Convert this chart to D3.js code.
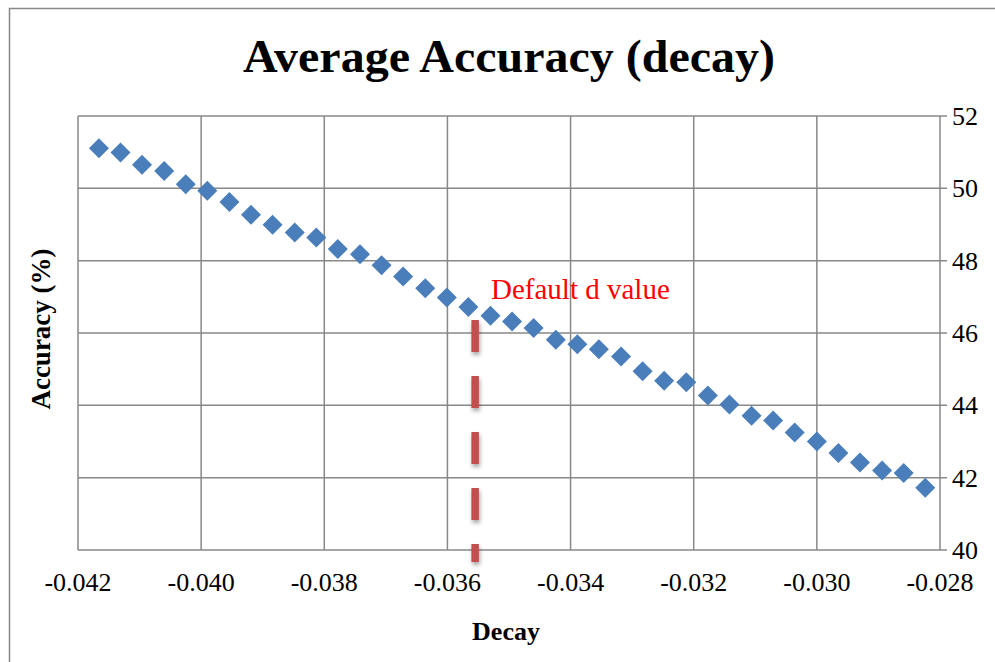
<!DOCTYPE html>
<html>
<head>
<meta charset="utf-8">
<script src="https://cdn.jsdelivr.net/npm/d3@7"></script>
<style>
  html, body { margin: 0; padding: 0; background: #fff; }
  svg { display: block; }
</style>
</head>
<body>
<svg id="chart" width="995" height="662"></svg>
<script>
// ---- data ----
const decay = [-0.04166, -0.04131, -0.04096, -0.04060, -0.04025, -0.03990, -0.03954, -0.03919,
  -0.03884, -0.03848, -0.03813, -0.03778, -0.03742, -0.03707, -0.03672, -0.03636, -0.03601,
  -0.03566, -0.03530, -0.03495, -0.03460, -0.03424, -0.03389, -0.03354, -0.03318, -0.03283,
  -0.03248, -0.03212, -0.03177, -0.03142, -0.03106, -0.03071, -0.03036, -0.03000, -0.02965,
  -0.02930, -0.02894, -0.02859, -0.02824];
const accuracy = [51.11, 50.99, 50.65, 50.48, 50.11, 49.93, 49.62, 49.27, 48.99, 48.78, 48.64,
  48.32, 48.18, 47.87, 47.56, 47.24, 46.98, 46.72, 46.48, 46.32, 46.14, 45.81, 45.69, 45.55,
  45.35, 44.94, 44.68, 44.64, 44.27, 44.02, 43.71, 43.58, 43.25, 43.00, 42.68, 42.42, 42.20,
  42.13, 41.72];
const xTicks = [-0.042, -0.040, -0.038, -0.036, -0.034, -0.032, -0.030, -0.028];
const yTicks = [40, 42, 44, 46, 48, 50, 52];
const defaultDecay = -0.03555;
const defaultLineRange = [46.36, 39.67];
const titleText = "Average Accuracy (decay)";
const xTitle = "Decay";
const yTitle = "Accuracy (%)";
const annotation = "Default d value";

// ---- layout ----
const svg = d3.select("#chart");
const serif = "'Liberation Serif', 'Times New Roman', serif";
const x = d3.scaleLinear().domain([-0.042, -0.028]).range([78, 940]);
const y = d3.scaleLinear().domain([40, 52]).range([550, 116]);
const grid = "#888888";

// outer frame
svg.append("path")
  .attr("d", "M9.5,662 L9.5,8.5 L995,8.5")
  .attr("fill", "none").attr("stroke", grid).attr("stroke-width", 1.5);

// defs: shadow
const defs = svg.append("defs");
const f = defs.append("filter").attr("id", "shadow")
  .attr("filterUnits", "userSpaceOnUse")
  .attr("x", 0).attr("y", 0).attr("width", 995).attr("height", 662);
f.append("feDropShadow").attr("dx", 1).attr("dy", 3).attr("stdDeviation", 2)
  .attr("flood-color", "#000").attr("flood-opacity", 0.35);

// horizontal gridlines (with right-side tick extension)
svg.append("g").selectAll("line").data(yTicks).join("line")
  .attr("x1", x.range()[0]).attr("x2", x.range()[1] + 7)
  .attr("y1", d => y(d)).attr("y2", d => y(d))
  .attr("stroke", grid).attr("stroke-width", 1.5);

// vertical gridlines
svg.append("g").selectAll("line").data(xTicks).join("line")
  .attr("x1", d => x(d)).attr("x2", d => x(d))
  .attr("y1", y.range()[1]).attr("y2", y.range()[0])
  .attr("stroke", grid).attr("stroke-width", 1.5);

// x tick labels
svg.append("g").selectAll("text").data(xTicks).join("text")
  .attr("x", d => x(d)).attr("y", 591)
  .attr("text-anchor", "middle")
  .attr("font-family", serif).attr("font-size", 26).attr("fill", "#000")
  .text(d => d3.format(".3f")(d).replace("−", "-"));

// y tick labels (right)
svg.append("g").selectAll("text").data(yTicks).join("text")
  .attr("x", 952).attr("y", d => y(d) + 9)
  .attr("text-anchor", "start")
  .attr("font-family", serif).attr("font-size", 26).attr("fill", "#000")
  .text(d => d);

// default d value dashed line
svg.append("line")
  .attr("x1", x(defaultDecay)).attr("x2", x(defaultDecay))
  .attr("y1", y(defaultLineRange[0])).attr("y2", y(defaultLineRange[1]))
  .attr("stroke", "#c0504d").attr("stroke-width", 7.5)
  .attr("stroke-dasharray", "32,24")
  .attr("filter", "url(#shadow)");

// markers
svg.append("g").selectAll("path").data(decay.map((d, i) => [d, accuracy[i]])).join("path")
  .attr("d", d3.symbol(d3.symbolSquare, 200))
  .attr("transform", d => `translate(${x(d[0])},${y(d[1])}) rotate(45)`)
  .attr("fill", "#4a7ebb");

// annotation
svg.append("text")
  .attr("x", 491).attr("y", 299)
  .attr("font-family", serif).attr("font-size", 29).attr("fill", "#ff0000")
  .text(annotation);

// title
svg.append("text")
  .attr("x", 509).attr("y", 72)
  .attr("text-anchor", "middle")
  .attr("font-family", serif).attr("font-weight", "bold").attr("font-size", 46)
  .attr("textLength", 532).attr("lengthAdjust", "spacingAndGlyphs")
  .attr("fill", "#000")
  .text(titleText);

// x axis title
svg.append("text")
  .attr("x", 506).attr("y", 640)
  .attr("text-anchor", "middle")
  .attr("font-family", serif).attr("font-weight", "bold").attr("font-size", 26)
  .attr("fill", "#000")
  .text(xTitle);

// y axis title
svg.append("text")
  .attr("transform", "translate(50,329) rotate(-90)")
  .attr("text-anchor", "middle")
  .attr("font-family", serif).attr("font-weight", "bold").attr("font-size", 27)
  .attr("fill", "#000")
  .text(yTitle);
</script>
</body>
</html>
